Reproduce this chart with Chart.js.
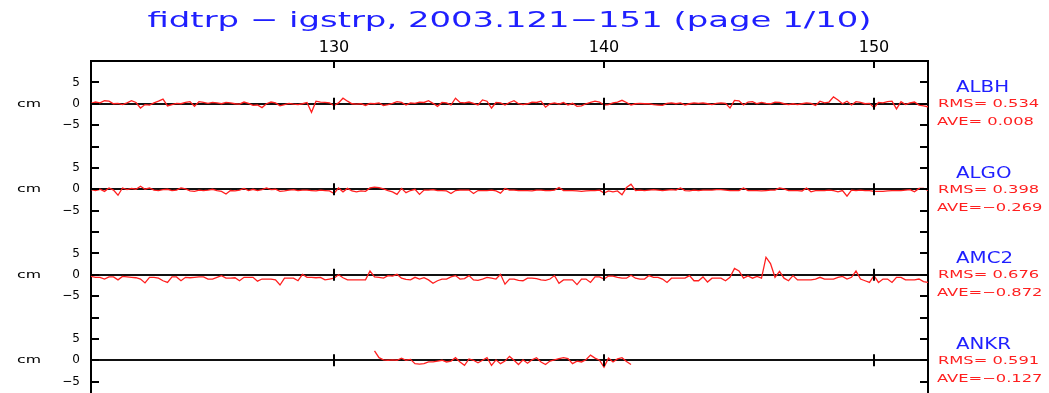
<!DOCTYPE html>
<html><head><meta charset="utf-8">
<script src="https://cdn.jsdelivr.net/npm/chart.js@4"></script>
<style>
html,body{margin:0;padding:0;background:#fff;overflow:hidden}
#wrap{width:1049px;height:393px;overflow:hidden;position:relative;background:#fff}
canvas{display:block}
</style>
</head><body><div id="wrap"><canvas id="c" width="1049" height="403"></canvas></div>
<script>
// ---------- data ----------
const TITLE = 'fidtrp − igstrp, 2003.121−151 (page 1/10)';
const DAY_START = 121, DAY_END = 152;
const SAMPLES_PER_DAY = 6;
const X_TICKS = [130, 140, 150];
const Y_TICKS = [-10, -5, 0, 5, 10];
const STATIONS = ['ALBH', 'ALGO', 'AMC2', 'ANKR'];
const RMS = ['0.534', '0.398', '0.676', '0.591'];
const AVE = [' 0.008', '−0.269', '−0.872', '−0.127'];

const ALBH = [
 0.1,0.4,0.2,0.7,0.6,0.0,  0.1,-0.2,0.2,0.7,0.3,-1.0,  -0.2,-0.3,0.2,0.6,1.1,-0.5,  -0.2,0.1,0.0,0.3,0.5,-0.6,
 0.5,0.3,0.1,0.3,0.2,0.0,  0.3,0.2,0.0,-0.1,0.4,0.1,  -0.4,-0.3,-0.9,0.0,0.4,0.2,  -0.5,-0.2,0.1,-0.1,-0.2,0.0,
 0.3,-2.0,0.6,0.4,0.3,0.2,  -0.4,0.2,1.3,0.6,0.0,-0.1,  0.0,-0.4,0.1,0.0,0.2,-0.4,  -0.2,0.1,0.5,0.3,-0.3,0.2,
 0.1,0.4,0.3,0.7,0.1,-0.6,  0.3,0.2,-0.3,1.3,0.3,0.2,  0.4,0.1,-0.3,0.9,0.6,-1.0,  0.3,0.2,-0.3,0.3,0.7,0.0,
 -0.2,0.0,0.4,0.3,0.6,-0.8,  0.0,0.2,-0.1,0.3,-0.3,0.1,  -0.6,-0.5,0.0,0.3,0.6,0.4,  -0.3,-0.2,0.2,0.4,0.8,0.3,
 -0.3,0.0,0.1,0.0,0.0,-0.2,  -0.3,-0.4,0.1,0.2,0.0,0.2,  -0.3,0.0,0.2,0.1,0.2,0.0,  -0.2,0.1,0.2,0.1,-1.0,0.8,
 0.7,-0.3,0.4,0.5,0.0,0.3,  0.1,0.0,0.4,0.3,0.0,-0.2,  0.0,-0.2,0.0,0.2,0.1,-0.4,  0.6,0.2,0.4,1.6,0.9,0.0,
 0.6,-0.3,0.5,0.3,0.0,0.1,  -0.9,0.3,0.2,0.5,0.6,-1.2,  0.5,-0.2,0.2,0.4,-0.3,-0.5,  -0.7
];
const ALGO = [
 -0.1,-0.3,0.0,-0.5,0.3,-0.2,  -1.4,0.3,-0.1,0.2,0.0,0.7,  0.0,0.3,-0.2,-0.3,-0.1,0.0,  -0.3,-0.2,0.3,0.1,-0.4,-0.5,
 -0.2,-0.3,-0.2,0.0,-0.3,-0.5,  -1.1,-0.3,-0.4,-0.2,0.2,-0.3,  0.0,-0.3,-0.1,0.3,-0.1,0.0,  -0.5,-0.4,-0.2,-0.1,-0.3,-0.2,
 -0.2,-0.3,-0.4,-0.2,-0.3,-0.4,  -1.0,0.3,-0.6,0.2,-0.4,-0.6,  -0.4,-0.5,0.3,0.5,0.4,0.1,  -0.3,-0.6,-1.2,0.2,-0.8,-0.3,
 0.0,-1.2,-0.2,-0.2,-0.1,-0.3,  -0.3,-0.4,-1.0,-0.3,-0.2,-0.2,  -0.2,-1.0,-0.3,-0.3,-0.3,-0.2,  -0.4,-0.9,0.2,-0.2,-0.2,-0.3,
 -0.3,-0.3,-0.4,-0.2,-0.2,-0.3,  -0.3,-0.2,0.4,-0.3,-0.3,-0.3,  -0.4,-0.5,-0.4,-0.3,-0.3,-0.2,  -0.9,-0.4,-0.6,-0.4,-1.3,0.4,
 1.2,-0.3,-0.2,-0.3,-0.2,-0.1,  -0.2,-0.3,-0.2,-0.1,-0.2,0.3,  -0.3,-0.4,-0.2,-0.3,-0.2,-0.2,  -0.2,-0.1,-0.1,-0.2,-0.3,-0.3,
 -0.3,0.3,-0.3,-0.3,-0.3,-0.4,  -0.3,-0.2,-0.2,0.3,0.1,-0.3,  -0.3,-0.3,-0.4,0.3,-0.6,-0.3,  -0.3,-0.3,-0.2,-0.3,-0.6,-0.3,
 -1.6,-0.2,-0.3,-0.2,-0.3,-0.3,  -0.5,-0.5,-0.5,-0.4,-0.3,-0.3,  -0.3,-0.2,-0.1,-0.6,0.2,0.2,  -0.3
];
const AMC2 = [
 -0.4,-0.6,-0.6,-1.0,-0.5,-0.5,  -1.2,-0.4,-0.5,-0.6,-0.7,-1.0,  -1.9,-0.6,-0.6,-0.8,-1.4,-1.8,  -0.5,-0.5,-1.4,-0.6,-0.7,-0.6,
 -0.5,-0.5,-1.0,-1.0,-0.6,-0.2,  -0.8,-0.8,-0.7,-1.4,-0.6,-0.6,  -0.6,-1.5,-1.0,-1.0,-1.0,-1.2,  -2.4,-0.8,-0.8,-0.8,-1.4,0.1,
 -0.6,-0.6,-0.7,-0.6,-1.2,-1.0,  -0.8,0.0,-0.7,-1.2,-1.2,-1.2,  -1.2,-1.2,0.9,-0.5,-0.6,-0.8,  -0.2,-0.3,0.1,-0.8,-1.1,-1.2,
 -0.6,-1.0,-0.7,-1.2,-2.0,-1.4,  -1.0,-1.0,-0.5,-0.2,-1.0,-0.9,  -0.2,-1.2,-1.3,-1.0,-0.6,-0.8,  -1.0,0.1,-2.2,-1.0,-1.0,-1.3,
 -1.4,-0.8,-0.8,-0.9,-1.2,-1.3,  -1.0,-0.2,-2.0,-1.2,-1.2,-1.2,  -2.3,-1.0,-1.0,-1.8,-0.5,-0.5,  -1.0,-0.3,-0.3,-0.6,-0.8,-0.8,
 -0.1,-0.8,-1.0,-1.0,-0.2,-0.6,  -0.6,-1.0,-1.8,-0.8,-0.8,-0.8,  -0.8,-0.2,-1.4,-1.4,-0.5,-1.7,  -0.8,-0.8,-0.8,-1.4,-0.6,1.5,
 0.9,-0.8,-0.3,-0.8,-0.4,-0.8,  4.1,2.6,-0.6,0.8,-0.8,-1.4,  -0.2,-1.2,-1.2,-1.2,-1.2,-1.0,  -0.6,-1.0,-1.0,-1.0,-0.6,-0.4,
 -1.0,-0.6,0.9,-1.0,-1.4,-1.8,  -0.2,-1.8,-1.0,-1.0,-1.8,-0.6,  -0.6,-1.2,-1.2,-1.2,-1.0,-1.6,  -1.8
];
const ANKR_START = 131.5;
const ANKR = [
 2.2,0.6,0.1,0.0,0.1,0.0,0.5,0.0,0.2,-0.8,-0.9,-0.8,-0.4,-0.4,-0.2,0.0,-0.4,-0.2,0.6,-0.4,
 -1.2,0.3,0.0,-0.6,0.0,0.6,-1.2,0.1,-0.8,-0.2,0.9,0.0,-1.0,0.1,-0.7,0.1,0.6,-0.4,-1.0,-0.2,
 0.1,0.4,0.6,0.4,-0.8,-0.2,-0.4,0.1,1.2,0.5,0.0,-1.6,0.5,-0.4,0.3,0.6,-0.3,-1.0
];
const SERIES = [ALBH, ALGO, AMC2, ANKR];
const SERIES_START = [DAY_START, DAY_START, DAY_START, ANKR_START];

// ---------- styles ----------
const AXIS = '#000';
const RED = '#ff1f1f';
const BLUE = '#1f1fff';
const FONT = 'DejaVu Sans';
const PANEL_IDS = ['y1', 'y2', 'y3', 'y4'];   // top to bottom

function fmtY(v) {
  if (Math.abs(v) === 10) return '';
  return v < 0 ? '−' + Math.abs(v) : String(v);
}

function panelScale(id) {
  return {
    type: 'linear', position: 'left', stack: 'panels', stackWeight: 1,
    min: -10, max: 10, offset: false,
    afterBuildTicks: s => { s.ticks = Y_TICKS.map(v => ({ value: v })); },
    afterFit: s => { s.width = 91; s.paddingTop = 0; s.paddingBottom = 0; },
    grid: {
      drawOnChartArea: true, drawTicks: false,
      color: c => (c.tick && c.tick.value === 0) ? '#111' : 'rgba(0,0,0,0)',
      lineWidth: 2
    },
    border: { display: true, color: AXIS, width: 2 },
    ticks: { callback: fmtY, font: { family: FONT, size: 12 }, color: '#000', padding: 11, autoSkip: false }
  };
}

const scales = {
  x: {
    type: 'linear', position: 'top', min: DAY_START, max: DAY_END,
    afterBuildTicks: s => { s.ticks = X_TICKS.map(v => ({ value: v })); },
    afterFit: s => { s.height = 61; },
    grid: { drawOnChartArea: false, drawTicks: false },
    border: { display: true, color: AXIS, width: 2 },
    ticks: { font: { family: FONT, size: 16 }, color: '#000', padding: 4, maxRotation: 0, autoSkip: false }
  }
};
// stacked left scales are placed bottom-up in definition order, so define them reversed
PANEL_IDS.slice().reverse().forEach(id => { scales[id] = panelScale(id); });
scales.yR = {
  type: 'linear', position: 'right', min: 0, max: 80,
  ticks: { display: false, stepSize: 5 },
  afterFit: s => { s.width = 121; s.paddingTop = 0; s.paddingBottom = 0; },
  grid: { drawOnChartArea: false, drawTicks: false },
  border: { display: true, color: AXIS, width: 2 }
};

const datasets = SERIES.map((vals, k) => ({
  label: STATIONS[k],
  yAxisID: PANEL_IDS[k],
  data: vals.map((v, i) => ({ x: SERIES_START[k] + i / SAMPLES_PER_DAY, y: v })),
  borderColor: RED, borderWidth: 1.3, pointRadius: 0, fill: false, tension: 0, spanGaps: false
}));

function line(ctx, x1, y1, x2, y2) { ctx.beginPath(); ctx.moveTo(x1, y1); ctx.lineTo(x2, y2); ctx.stroke(); }

function drawStretched(ctx, text, x, baseline, size, color, sx, align) {
  ctx.save();
  ctx.font = size + 'px "' + FONT + '"';
  ctx.fillStyle = color;
  ctx.textBaseline = 'alphabetic';
  ctx.textAlign = 'left';
  const w = ctx.measureText(text).width * sx;
  const x0 = align === 'center' ? x - w / 2 : (align === 'right' ? x - w : x);
  ctx.translate(x0, baseline);
  ctx.scale(sx, 1);
  ctx.fillText(text, 0, 0);
  ctx.restore();
}

const decor = {
  id: 'decor',
  afterDatasetsDraw(chart) {
    const ctx = chart.ctx, a = chart.chartArea, xs = chart.scales.x;
    ctx.save();
    ctx.strokeStyle = AXIS; ctx.lineWidth = 2;
    PANEL_IDS.forEach(id => {
      const s = chart.scales[id];
      s.ticks.forEach(t => { const y = Math.round(s.getPixelForValue(t.value)); line(ctx, a.left, y, a.left + 8, y); });
      const y0 = s.getPixelForValue(0);
      xs.ticks.forEach(t => { const x = Math.round(xs.getPixelForValue(t.value)); line(ctx, x, y0 - 6, x, y0 + 6); });
    });
    const r = chart.scales.yR;
    r.ticks.forEach(t => { const y = Math.round(r.getPixelForValue(t.value)); line(ctx, a.right - 8, y, a.right, y); });
    xs.ticks.forEach(t => { const x = Math.round(xs.getPixelForValue(t.value)); line(ctx, x, a.top, x, a.top + 7); });
    ctx.restore();
  },
  afterDraw(chart) {
    const ctx = chart.ctx, a = chart.chartArea;
    ctx.save();
    ctx.font = '22px "' + FONT + '"';
    const tw = ctx.measureText(TITLE).width;
    ctx.restore();
    drawStretched(ctx, TITLE, (a.left + a.right) / 2, 27, 22, BLUE, 724 / tw, 'center');
    PANEL_IDS.forEach((id, k) => {
      const y0 = chart.scales[id].getPixelForValue(0);
      drawStretched(ctx, 'cm', 17, y0 + 3, 11, '#000', 1.43, 'left');
      drawStretched(ctx, STATIONS[k], 956, y0 - 11.5, 15, BLUE, 1.32, 'left');
      drawStretched(ctx, 'RMS= ' + RMS[k], 938, y0 + 3.5, 11, RED, 1.48, 'left');
      drawStretched(ctx, 'AVE=' + AVE[k], 937, y0 + 21.5, 11, RED, 1.48, 'left');
    });
  }
};

new Chart(document.getElementById('c'), {
  type: 'line',
  data: { datasets },
  options: {
    responsive: false, animation: false, devicePixelRatio: 1, events: [],
    layout: { padding: 0 },
    plugins: { legend: { display: false }, tooltip: { enabled: false }, title: { display: false } },
    scales
  },
  plugins: [decor]
});
</script>
</body></html>
